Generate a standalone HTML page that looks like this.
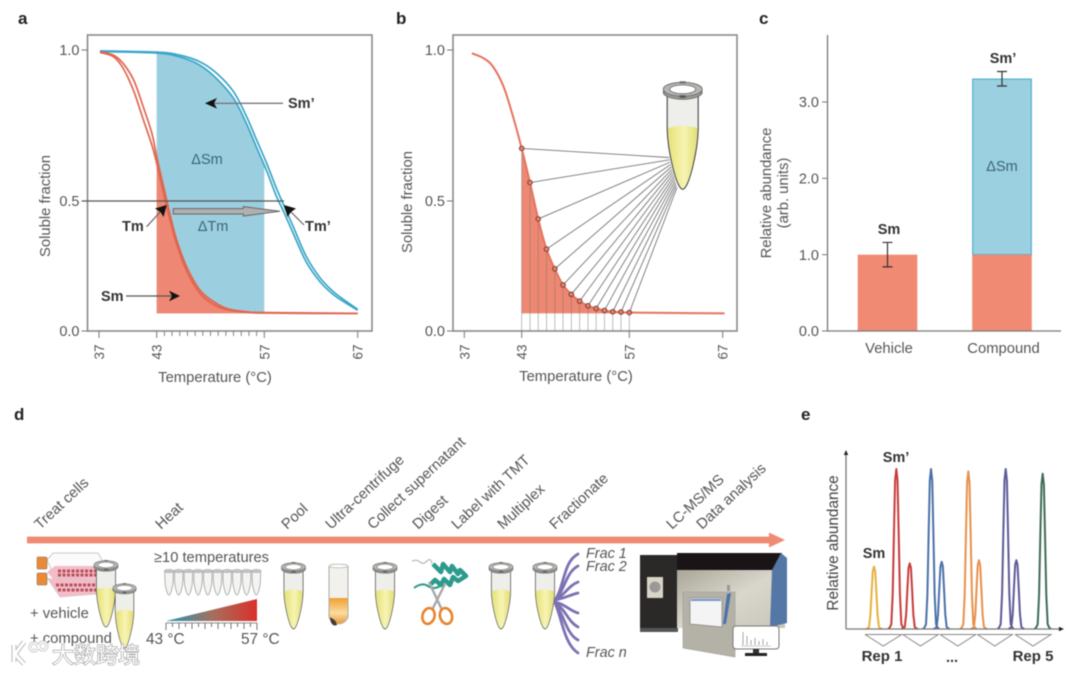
<!DOCTYPE html>
<html lang="en">
<head>
<meta charset="utf-8">
<title>Thermal proteome profiling figure</title>
<style>
html,body{margin:0;padding:0;background:#fff;width:1080px;height:673px;overflow:hidden}
svg{display:block;filter:blur(.55px);font-family:"Liberation Sans","Noto Sans CJK SC",sans-serif}
.letter{font-size:17px;font-weight:700;fill:#222}
.lab{font-size:14.8px;fill:#555}
.bold{font-size:14.5px;font-weight:700;fill:#333}
.step{font-size:14.8px;fill:#555}
.tick{font-size:14.5px;fill:#555}
.xt{font-size:13.5px;fill:#555}
.in{font-size:14.5px;fill:#3c6478}
.frac{font-size:14.4px;font-style:italic;fill:#555}
</style>
</head>
<body>
<svg id="figure" xmlns="http://www.w3.org/2000/svg" width="1080" height="673" viewBox="0 0 1080 673">
<defs>
<linearGradient id="liq" x1="0" x2="1" y1="0" y2="0"><stop offset="0" stop-color="#e6e176"/><stop offset=".55" stop-color="#f7f4b4"/><stop offset="1" stop-color="#e3dd72"/></linearGradient>
<linearGradient id="heatgrad" x1="0" x2="1" y1="0" y2="0"><stop offset="0" stop-color="#1e98bb"/><stop offset=".5" stop-color="#a5705f"/><stop offset="1" stop-color="#d9302a"/></linearGradient>
<linearGradient id="bodygrad" x1="0" x2="1" y1="0" y2="1"><stop offset="0" stop-color="#a9a698"/><stop offset=".5" stop-color="#d9d7cc"/><stop offset="1" stop-color="#c8c6ba"/></linearGradient>
<linearGradient id="orangegrad" x1="0" x2="0" y1="0" y2="1"><stop offset="0" stop-color="#f0a030"/><stop offset=".6" stop-color="#fbdca0"/><stop offset="1" stop-color="#e89a3a"/></linearGradient>
<g id="tube">
  <path d="M-15.5,5 L-15.5,40 C-15,62 -6,100 0,100 C6,100 15,62 15.5,40 L15.5,5 Z" fill="#eeeeea" stroke="#444" stroke-width="1.1"/>
  <path d="M-14.8,39 Q0,34 14.8,39 C14,62 6,99 0,99 C-6,99 -14,62 -14.8,39 Z" fill="url(#liq)"/>
  <ellipse cx="0" cy="3" rx="19.5" ry="7" fill="#9b9b98" stroke="#666" stroke-width=".9"/>
  <ellipse cx="0" cy="0" rx="19.5" ry="7" fill="#b5b5b2" stroke="#666" stroke-width=".9"/>
  <ellipse cx="0" cy="0" rx="13" ry="4.4" fill="#fff" stroke="#777" stroke-width=".9"/>
  <rect x="-3" y="-8" width="6" height="2" fill="#666"/>
  <rect x="-3" y="6" width="6" height="2.5" fill="#555"/>
</g>
<g id="mini-tube">
  <path d="M-4.2,2 L-4.2,10 C-4,17 -1.6,25 0,25 C1.6,25 4,17 4.2,10 L4.2,2 Z" fill="#f4f4f2" stroke="#a8a8a8" stroke-width=".9"/>
  <ellipse cx="0" cy="1" rx="5" ry="1.6" fill="#c4c4c4" stroke="#a0a0a0" stroke-width=".5"/>
</g>
</defs>

<!-- Panel letters -->
<text class="letter" x="18" y="24">a</text>
<text class="letter" x="396" y="24">b</text>
<text class="letter" x="759" y="24">c</text>
<text class="letter" x="14" y="420">d</text>
<text class="letter" x="801" y="420">e</text>

<!-- Panel a -->
<g id="panel-a"></g>
<g>
  <line x1="82" y1="201" x2="284" y2="201" stroke="#555" stroke-width="1.2"/>
  <polygon points="173.3,208.6 243.3,208.6 243.3,206.6 280,211.3 243.3,216 243.3,214 173.3,214" fill="#b0b0b0" stroke="#666" stroke-width="1"/>
  <line x1="283" y1="103.3" x2="214" y2="103.3" stroke="#777" stroke-width="1.3"/>
  <polygon points="205,103.3 217,98 214,103.3 217,108.6" fill="#111"/>
  <line x1="126" y1="296" x2="172" y2="296" stroke="#555" stroke-width="1.3"/>
  <polygon points="180,296 169,290.7 172,296 169,301.3" fill="#111"/>
  <line x1="146.7" y1="226.7" x2="161" y2="211" stroke="#666" stroke-width="1.2"/>
  <polygon points="166.7,205 155,208.5 160.5,212 163.5,217" fill="#111"/>
  <line x1="304" y1="225" x2="290" y2="211" stroke="#666" stroke-width="1.2"/>
  <polygon points="284,205 296,208.5 291,212 287.5,217" fill="#111"/>
  <text class="bold" x="288" y="108">Sm’</text>
  <text class="in" x="207" y="164" text-anchor="middle">ΔSm</text>
  <text class="in" x="213" y="231" text-anchor="middle">ΔTm</text>
  <text class="bold" x="122" y="231">Tm</text>
  <text class="bold" x="305" y="231">Tm’</text>
  <text class="bold" x="101" y="301">Sm</text>
  <text class="lab" x="215" y="382" text-anchor="middle">Temperature (°C)</text>
  <text class="lab" transform="translate(50 206) rotate(-90)" text-anchor="middle">Soluble fraction</text>
</g>

<!-- Panel b -->
<g id="panel-b"></g>
<use href="#tube" transform="translate(682.7 89.3)"/>
<text class="lab" x="576" y="381" text-anchor="middle">Temperature (°C)</text>
<text class="lab" transform="translate(412 202) rotate(-90)" text-anchor="middle">Soluble fraction</text>

<!-- Panel c -->
<g id="panel-c"></g>
<text class="lab" transform="translate(771 193) rotate(-90)" text-anchor="middle">Relative abundance</text>
<text class="lab" transform="translate(788 193) rotate(-90)" text-anchor="middle">(arb. units)</text>
<text class="bold" x="889" y="234" text-anchor="middle">Sm</text>
<text class="bold" x="1003" y="63" text-anchor="middle">Sm’</text>
<text class="in" x="1002" y="171" text-anchor="middle">ΔSm</text>

<!-- Panel d -->
<g>
  <rect x="27" y="536.6" width="744" height="6.8" fill="#f08a72"/>
  <polygon points="769,532.5 785,540 769,547.5" fill="#f08a72"/>
  <g class="steps">
    <text class="step" transform="translate(40 530) rotate(-43)">Treat cells</text>
    <text class="step" transform="translate(161 530) rotate(-43)">Heat</text>
    <text class="step" transform="translate(287 530) rotate(-43)">Pool</text>
    <text class="step" transform="translate(331 530) rotate(-43)">Ultra-centrifuge</text>
    <text class="step" transform="translate(373 530) rotate(-43)">Collect supernatant</text>
    <text class="step" transform="translate(418 530) rotate(-43)">Digest</text>
    <text class="step" transform="translate(457 530) rotate(-43)">Label with TMT</text>
    <text class="step" transform="translate(503 530) rotate(-43)">Multiplex</text>
    <text class="step" transform="translate(555 530) rotate(-43)">Fractionate</text>
    <text class="step" transform="translate(672 530) rotate(-43)">LC-MS/MS</text>
    <text class="step" transform="translate(702 530) rotate(-43)">Data analysis</text>
  </g>

  <g>
    <polygon points="47,560 53,553 98,553 104,563 100,576 55,578" fill="#fbfbfb" stroke="#bbb" stroke-width=".8"/>
    <polygon points="47,572 55,566 100,566 100,578 55,581" fill="#f3bcc6"/>
    <polygon points="47,578 52,579 98,579 98,594 60,597" fill="#f3bcc6" stroke="#ccc" stroke-width=".6"/>
    <path d="M58,571 h40 M58,575 h40" stroke="#b6505f" stroke-width="3" stroke-dasharray="3 1.5" fill="none"/>
    <path d="M56,585 h40 M58,590 h38" stroke="#b6505f" stroke-width="3" stroke-dasharray="3 1.5" fill="none"/>
    <rect x="37" y="557" width="10" height="12" rx="1" fill="#ec8a34" stroke="#666" stroke-width=".5"/>
    <rect x="37" y="573" width="10" height="12" rx="1" fill="#ec8a34" stroke="#666" stroke-width=".5"/>
  </g>
  <use href="#tube" transform="translate(106 565) scale(.62)"/>
  <use href="#tube" transform="translate(124.5 588) scale(.6)"/>
  <text class="lab" x="30" y="618">+ vehicle</text>
  <text class="lab" x="30" y="643">+ compound</text>

  <text class="lab" x="154" y="562" style="font-size:14.7px">≥10 temperatures</text>
  <g>
    <use href="#mini-tube" x="169" y="570"/><use href="#mini-tube" x="178.7" y="570"/><use href="#mini-tube" x="188.4" y="570"/><use href="#mini-tube" x="198.1" y="570"/><use href="#mini-tube" x="207.8" y="570"/><use href="#mini-tube" x="217.5" y="570"/><use href="#mini-tube" x="227.2" y="570"/><use href="#mini-tube" x="236.9" y="570"/><use href="#mini-tube" x="246.6" y="570"/><use href="#mini-tube" x="256.3" y="570"/>
  </g>
  <polygon points="166,621 257,599 257,621" fill="url(#heatgrad)"/>
  <path d="M166,623 H257" stroke="#666" stroke-width=".8"/>
  <path d="M166,623 v7 M172.5,623 v4 M179,623 v6 M185.5,623 v4 M192,623 v6 M198.5,623 v4 M205,623 v6 M211.5,623 v4 M218,623 v6 M224.5,623 v4 M231,623 v6 M237.5,623 v4 M244,623 v6 M250.5,623 v4 M257,623 v7" stroke="#666" stroke-width=".9"/>
  <text class="lab" x="146" y="644" style="font-size:15.4px">43 °C</text>
  <text class="lab" x="241" y="644" style="font-size:15.4px">57 °C</text>

  <use href="#tube" transform="translate(293.5 567) scale(.62)"/>
  <g>
    <path d="M329,567 V617 A10,10 0 0 0 348,617 V567 Z" fill="#f2f1ec" stroke="#aaa" stroke-width="1"/>
    <ellipse cx="338.5" cy="566" rx="9.5" ry="1.8" fill="#fff" stroke="#bbb" stroke-width=".8"/>
    <path d="M329.5,598 H347.5 V617 A9.5,9.5 0 0 1 329.5,617 Z" fill="url(#orangegrad)"/>
    <path d="M330,617 C332,619 336,619 337,625 C333,627 330,623 330,617 Z" fill="#4a3b33"/>
  </g>
  <use href="#tube" transform="translate(385 567) scale(.62)"/>

  <g>
    <path d="M412,561 q5,-2 8,1 t7,-1 t5,3" fill="none" stroke="#aaa" stroke-width="1"/>
    <path d="M433,564 l8,8 l2,-8 l7,8 l2,-6 l6,8 l2,-4 l6,6 l-8,5 l-5,-4 l-3,8 l-6,-6 l-3,6 l-6,-5 l-4,4" fill="none" stroke="#2c9a8c" stroke-width="4.5" stroke-linejoin="round"/>
    <path d="M414,588 q8,-6 14,-2 t12,0" fill="none" stroke="#2c9a8c" stroke-width="2"/>
    <path d="M429,582 L442,610 M445,584 L432,610" stroke="#a8a8a8" stroke-width="2.4"/>
    <ellipse cx="428.5" cy="616" rx="6" ry="8" fill="none" stroke="#e8842c" stroke-width="2.6" transform="rotate(15 428.5 616)"/>
    <ellipse cx="446" cy="616" rx="6" ry="8" fill="none" stroke="#e8842c" stroke-width="2.6" transform="rotate(-15 446 616)"/>
  </g>
  <use href="#tube" transform="translate(501 567) scale(.62)"/>
  <use href="#tube" transform="translate(545 567) scale(.62)"/>
  <g fill="none" stroke="#7d71b3" stroke-width="2.8" stroke-linecap="round">
    <path d="M555,600 C565,585 563,562 578,554"/>
    <path d="M555,600 C565,590 566,572 578,566"/>
    <path d="M555,600 C565,595 568,586 578,582"/>
    <path d="M555,600 C565,598 570,595 578,593"/>
    <path d="M555,602 C565,604 570,611 578,613"/>
    <path d="M555,603 C565,608 568,622 578,627"/>
    <path d="M555,603 C563,612 566,634 578,640"/>
    <path d="M555,603 C562,618 564,644 578,653"/>
  </g>
  <text class="frac" x="586" y="558">Frac 1</text>
  <text class="frac" x="586" y="571">Frac 2</text>
  <text class="frac" x="586" y="657">Frac n</text>

  <g>
    <rect x="640" y="555" width="38" height="77" fill="#2b2828"/>
    <rect x="640" y="628" width="38" height="4" fill="#555"/>
    <rect x="647" y="577" width="16" height="21" fill="#d8d4c6"/>
    <circle cx="655" cy="587" r="5.5" fill="#999"/>
    <rect x="677" y="570" width="108" height="58" fill="url(#bodygrad)"/>
    <rect x="677" y="553" width="105" height="17" fill="#1b1417"/>
    <polygon points="772,570 781,553 787,558 787,623 770,627" fill="#5577a6"/>
    <polygon points="683,592 735,592 735,657 683,648" fill="#b4b2a6" stroke="#999" stroke-width=".6"/>
    <polygon points="690,598 722,598 722,627 690,624" fill="#f4f4f5" stroke="#8a8a8a" stroke-width=".8"/>
    <rect x="691" y="599" width="30" height="2" fill="#7595c4"/>
    <polygon points="727,594 731,593 726,624 723,624" fill="#4d73aa"/>
    <rect x="727" y="585" width="3" height="6" fill="#999"/>
  </g>
  <g>
    <rect x="733" y="626" width="46" height="23" rx="3" fill="#fff" stroke="#777" stroke-width="1"/>
    <path d="M743,632 V645 M747,636 V645 M751,640 V645 M755,638 V645 M759,641 V645 M763,639 V645 M767,642 V645" stroke="#a5a5a5" stroke-width="1"/>
    <path d="M741,646 H771" stroke="#bbb" stroke-width=".7"/>
    <rect x="753" y="649" width="6" height="4" fill="#333"/>
    <rect x="745" y="653" width="22" height="3" fill="#222"/>
  </g>
</g>

<!-- Panel e -->
<g id="panel-e"></g>
<text class="lab" transform="translate(838 543) rotate(-90)" text-anchor="middle" style="font-size:15.3px;fill:#444">Relative abundance</text>
<text class="bold" x="874" y="558" text-anchor="middle">Sm</text>
<text class="bold" x="896" y="462" text-anchor="middle">Sm’</text>
<text class="bold" x="882" y="661" text-anchor="middle" style="font-size:15px">Rep 1</text>
<text class="bold" x="952" y="662" text-anchor="middle">...</text>
<text class="bold" x="1033" y="661" text-anchor="middle" style="font-size:15px">Rep 5</text>

<!-- Watermark -->
<g>
  <path d="M14,645 V662 M24,642 L15,654 L24,664" fill="none" stroke="#bbb" stroke-width="5"/>
  <path d="M14,645 V662 M24,642 L15,654 L24,664" fill="none" stroke="#fff" stroke-width="3"/>
  <circle cx="34" cy="647" r="4" fill="none" stroke="#bbb" stroke-width="3"/>
  <circle cx="43" cy="646" r="4" fill="none" stroke="#bbb" stroke-width="3"/>
  <circle cx="34" cy="647" r="4" fill="none" stroke="#fff" stroke-width="1.6"/>
  <circle cx="43" cy="646" r="4" fill="none" stroke="#fff" stroke-width="1.6"/>
  <text x="52" y="663" style="font-size:22px;font-family:'Noto Sans CJK SC',sans-serif;fill:#fff;stroke:#999;stroke-width:1.2;paint-order:stroke">大数跨境</text>
</g>

<script>
// ---------- Chart data ----------
// Panel a
const aTemps = [37.1,38.5,39.5,40.6,41.6,42.5,43,43.9,44.7,45.6,46.9,48.6,50.4,52.1,54.7,57.3,67];
const aVehicleHigh = [0.994,0.983,0.956,0.901,0.812,0.724,0.647,0.547,0.453,0.35,0.247,0.158,0.113,0.087,0.074,0.071,0.068];
const aVehicleLow = [0.992,0.978,0.94,0.865,0.77,0.685,0.625,0.525,0.43,0.333,0.23,0.145,0.102,0.082,0.072,0.069,0.067];
const aCompoundTemps = [37.1,43,46,48.6,50.8,53,54.7,56,57.25,58.3,59,60.1,61.5,63,64.4,65.8,67];
const aCompoundHigh = [0.997,0.993,0.983,0.961,0.923,0.862,0.779,0.702,0.625,0.542,0.491,0.401,0.286,0.203,0.151,0.113,0.083];
const aCompoundLow = [0.995,0.99,0.977,0.95,0.905,0.84,0.755,0.677,0.6,0.515,0.465,0.375,0.265,0.188,0.14,0.106,0.08];
const plateauFraction = 0.068;
const areaStart = 43;
const areaEnd = 57;
// Shared temperature-plot ticks
const yTickValues = [0,0.5,1];
const yTickLabels = ['0.0','0.5','1.0'];
const xTickValues = [37,43,57,67];
const xMinorTicks = [44,45,46,47,48,49,50,51,52,53,54,55,56];
// Panel b
const bTemps = [37.8,39,40,41.1,42.1,43,44.08,45.15,46.23,47.31,48.38,49.46,50.54,51.62,52.69,53.77,54.85,55.92,57,67.2];
const bFractions = [0.989,0.973,0.945,0.879,0.779,0.674,0.561,0.431,0.315,0.239,0.177,0.141,0.115,0.097,0.087,0.079,0.074,0.073,0.071,0.068];
const bSampleTemps = [43,44.08,45.15,46.23,47.31,48.38,49.46,50.54,51.62,52.69,53.77,54.85,55.92,57];
const bSampleFractions = [0.674,0.561,0.431,0.315,0.239,0.177,0.141,0.115,0.097,0.087,0.079,0.074,0.073,0.071];
// Panel c
const cCategories = ['Vehicle','Compound'];
const cBase = [1.0,1.0];
const cDelta = [0,2.3];
const cErrLow = [0.84,3.21];
const cErrHigh = [1.16,3.4];
const cTickValues = [0,1,2,3];
const cTickLabels = ['0.0','1.0','2.0','3.0'];
// Panel e
const ePeakTimes = [2.71,4.87,6.17,8.23,9.26,11.84,12.87,15.46,16.49,19.04];
const ePeakHeights = [0.39,1.0,0.41,1.0,0.42,0.985,0.43,1.0,0.43,0.97];
const ePeakColors = ['#e5b13f','#c83a3a','#c83a3a','#4a70a8','#4a70a8','#e8904a','#e8904a','#5c5a98','#5c5a98','#3f6b55'];
const eReplicateEdges = [[865,901.7],[902.7,938.3],[940,975.7],[977.3,1012.3],[1015,1051]];

// ---------- Helpers ----------
const NS = 'http://www.w3.org/2000/svg';
function make(tag, attrs, parent){
  const e = document.createElementNS(NS, tag);
  for (const k in attrs) e.setAttribute(k, attrs[k]);
  parent.appendChild(e);
  return e;
}
function piecewise(domain, range){
  return function(v){
    let i = 0;
    while (i < domain.length - 2 && v > domain[i+1]) i++;
    const t = (v - domain[i]) / (domain[i+1] - domain[i]);
    return range[i] + t * (range[i+1] - range[i]);
  };
}
function smooth(pts){
  let d = 'M' + pts[0][0].toFixed(2) + ',' + pts[0][1].toFixed(2);
  for (let i = 0; i < pts.length - 1; i++){
    const p0 = pts[Math.max(i-1,0)], p1 = pts[i], p2 = pts[i+1], p3 = pts[Math.min(i+2,pts.length-1)];
    const c1x = p1[0] + (p2[0]-p0[0])/6, c1y = p1[1] + (p2[1]-p0[1])/6;
    const c2x = p2[0] - (p3[0]-p1[0])/6, c2y = p2[1] - (p3[1]-p1[1])/6;
    d += 'C' + c1x.toFixed(2) + ',' + c1y.toFixed(2) + ' ' + c2x.toFixed(2) + ',' + c2y.toFixed(2) + ' ' + p2[0].toFixed(2) + ',' + p2[1].toFixed(2);
  }
  return d;
}
function lerpAt(xs, ys, t){
  for (let i = 0; i < xs.length - 1; i++){
    if (t >= xs[i] && t <= xs[i+1]) return ys[i] + (t-xs[i])/(xs[i+1]-xs[i])*(ys[i+1]-ys[i]);
  }
  return ys[ys.length-1];
}
function areaPath(xs, ys, X, Y){
  const pts = [[X(areaStart), Y(lerpAt(xs,ys,areaStart))]];
  xs.forEach(function(t,i){ if (t > areaStart && t < areaEnd) pts.push([X(t), Y(ys[i])]); });
  pts.push([X(areaEnd), Y(lerpAt(xs,ys,areaEnd))]);
  return smooth(pts) + 'L' + X(areaEnd) + ',' + Y(plateauFraction) + 'L' + X(areaStart) + ',' + Y(plateauFraction) + 'Z';
}
function drawFrame(g, left, right, X, Y, minor, prefix){
  const frame = make('rect',{x:left,y:35,width:right-left,height:296,fill:'none',stroke:'#8a8a8a','stroke-width':1.6},g);
  
  
  yTickValues.forEach(function(v,i){
    const t = make('line',{x1:left-6,x2:left,y1:Y(v),y2:Y(v),stroke:'#777','stroke-width':1},g);
    
    
    const l = make('text',{x:left-8,y:Y(v),dy:'.36em','text-anchor':'end',class:'tick'},g);
    l.textContent = yTickLabels[i];
    
    
  });
  xTickValues.forEach(function(v){
    const t = make('line',{x1:X(v),x2:X(v),y1:331,y2:338,stroke:'#777','stroke-width':1},g);
    
    
    const l = make('text',{class:'xt','text-anchor':'middle',transform:'translate(' + (X(v)+5) + ' 352) rotate(-90)'},g);
    l.textContent = v;
    
    
  });
  if (minor) xMinorTicks.forEach(function(v){
    const t = make('line',{x1:X(v),x2:X(v),y1:331,y2:336,stroke:'#777','stroke-width':.9},g);
    
    
  });
}

// ---------- Panel a ----------
(function(){
  const g = document.getElementById('panel-a');
  const X = piecewise([37,43,57,67],[99,156.7,264.3,357.7]);
  const Y = piecewise([0,0.5,1],[331,201,50]);
  const blue = make('path',{d:areaPath(aCompoundTemps,aCompoundLow,X,Y),fill:'#9bcfe0'},g);
  
  
  const red = make('path',{d:areaPath(aTemps,aVehicleHigh,X,Y),fill:'#ee8874'},g);
  
  
  drawFrame(g,87.5,372,X,Y,true,'panel-a');
  [aCompoundHigh,aCompoundLow].forEach(function(ys){
    const p = make('path',{d:smooth(aCompoundTemps.map(function(t,i){return [X(t),Y(ys[i])];})),fill:'none',stroke:'#3aa5c8','stroke-width':1.7},g);
    
    
  });
  [aVehicleHigh,aVehicleLow].forEach(function(ys){
    const p = make('path',{d:smooth(aTemps.map(function(t,i){return [X(t),Y(ys[i])];})),fill:'none',stroke:'#e0664f','stroke-width':1.7},g);
    
    
  });
})();

// ---------- Panel b ----------
(function(){
  const g = document.getElementById('panel-b');
  const X = piecewise([37,43,57,67],[464.3,521.7,629.3,722.7]);
  const Y = piecewise([0,0.5,1],[331,201,50]);
  const area = make('path',{d:areaPath(bTemps,bFractions,X,Y),fill:'#ee8872'},g);
  
  
  drawFrame(g,453,737,X,Y,false,'panel-b');
  bSampleTemps.forEach(function(t,i){
    const drop = make('line',{x1:X(t),x2:X(t),y1:Y(bSampleFractions[i]),y2:331,stroke:'#777','stroke-width':.8,opacity:.6},g);
    
    
  });
  const curve = make('path',{d:smooth(bTemps.map(function(t,i){return [X(t),Y(bFractions[i])];})),fill:'none',stroke:'#e6735e','stroke-width':2},g);
  
  
  const n = bSampleTemps.length;
  bSampleTemps.forEach(function(t,i){
    const f = i/(n-1);
    const link = make('line',{x1:X(t),y1:Y(bSampleFractions[i]),x2:669+8*f,y2:157.5+30*f,stroke:'#777','stroke-width':.9},g);
    
    
  });
  bSampleTemps.forEach(function(t,i){
    const c = make('circle',{cx:X(t),cy:Y(bSampleFractions[i]),r:2.3,fill:'#e8806a',stroke:'#7a3d33','stroke-width':1},g);
    
    
  });
})();

// ---------- Panel c ----------
(function(){
  const g = document.getElementById('panel-c');
  const Y = function(v){ return 331 - v*76.33; };
  const barCenters = [887.5,1002];
  const barHalf = 29.8;
  const yAxis = make('line',{x1:827.5,x2:827.5,y1:35,y2:331,stroke:'#777','stroke-width':1.3},g);
  
  
  cCategories.forEach(function(name,i){
    const cx = barCenters[i];
    if (cDelta[i] > 0){
      const top = make('rect',{x:cx-barHalf+.5,y:Y(cBase[i]+cDelta[i]),width:2*barHalf-1,height:Y(cBase[i])-Y(cBase[i]+cDelta[i]),fill:'#9bd0e0',stroke:'#50b0cd','stroke-width':1.2},g);
      
      
    }
    const base = make('rect',{x:cx-barHalf,y:Y(cBase[i]),width:2*barHalf,height:331-Y(cBase[i]),fill:'#f08a72'},g);
    
    
    const err = make('path',{d:'M'+(cx-5)+','+Y(cErrHigh[i])+'H'+(cx+5)+'M'+cx+','+Y(cErrHigh[i])+'V'+Y(cErrLow[i])+'M'+(cx-5)+','+Y(cErrLow[i])+'H'+(cx+5),fill:'none',stroke:'#333','stroke-width':1.2},g);
    
    
    const l = make('text',{x:cx+1.5,y:353,'text-anchor':'middle',class:'lab'},g);
    l.textContent = name;
    
    
  });
  const xAxis = make('line',{x1:827,x2:1061,y1:331,y2:331,stroke:'#777','stroke-width':1.3},g);
  
  
  cTickValues.forEach(function(v,i){
    const t = make('line',{x1:822,x2:827.5,y1:Y(v),y2:Y(v),stroke:'#777','stroke-width':1},g);
    
    
    const l = make('text',{x:819,y:Y(v),dy:'.36em','text-anchor':'end',class:'tick'},g);
    l.textContent = cTickLabels[i];
    
    
  });
})();

// ---------- Panel e ----------
(function(){
  const g = document.getElementById('panel-e');
  const X = function(t){ return 846 + t*10.33; };
  const Y = function(v){ return 629 - v*160; };
  const shape = [[-8,0],[-6.5,.01],[-5,.03],[-3.6,.22],[-2.3,.62],[-1.2,.93],[0,1],[1.2,.93],[2.3,.62],[3.6,.22],[5,.03],[6.5,.01],[8,0]];
  ePeakTimes.forEach(function(t,i){
    const d = shape.map(function(p,k){ return (k?'L':'M') + (X(t)+p[0]).toFixed(2) + ',' + Y(ePeakHeights[i]*p[1]).toFixed(2); }).join('');
    const p = make('path',{d:d,fill:'none',stroke:ePeakColors[i],'stroke-width':2,'stroke-linejoin':'round'},g);
    
    
  });
  const axes = make('path',{d:'M846,629V453M846,629H1060',fill:'none',stroke:'#777','stroke-width':1.3},g);
  
  
  const up = make('polygon',{points:'846,450 843.8,455 848.2,455',fill:'#222'},g);
  
  
  const right = make('polygon',{points:'1064,629 1059,626.8 1059,631.2',fill:'#222'},g);
  
  
  eReplicateEdges.forEach(function(r){
    const m = (r[0]+r[1])/2;
    const b = make('polyline',{points:r[0]+',634.5 '+m+',646 '+r[1]+',634.5 '+r[0]+',634.5',fill:'none',stroke:'#888','stroke-width':1},g);
    
    
  });
})();
</script>
</svg>
</body>
</html>
